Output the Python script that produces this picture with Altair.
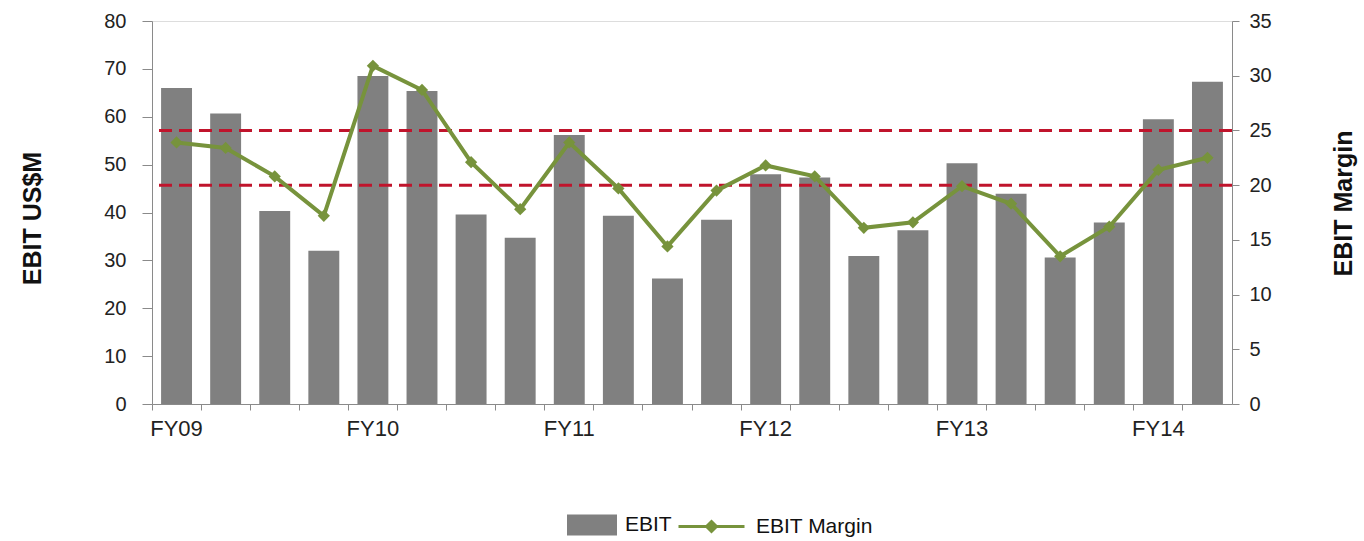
import altair as alt
import pandas as pd

quarters = [
    "FY09 Q1", "FY09 Q2", "FY09 Q3", "FY09 Q4",
    "FY10 Q1", "FY10 Q2", "FY10 Q3", "FY10 Q4",
    "FY11 Q1", "FY11 Q2", "FY11 Q3", "FY11 Q4",
    "FY12 Q1", "FY12 Q2", "FY12 Q3", "FY12 Q4",
    "FY13 Q1", "FY13 Q2", "FY13 Q3", "FY13 Q4",
    "FY14 Q1", "FY14 Q2",
]
ebit = [66.0, 60.7, 40.3, 32.0, 68.5, 65.4, 39.6, 34.7, 56.2, 39.3, 26.2,
        38.5, 48.0, 47.3, 30.9, 36.3, 50.3, 43.9, 30.6, 37.9, 59.5, 67.3]
margin = [23.9, 23.4, 20.8, 17.2, 30.9, 28.7, 22.1, 17.8, 23.9, 19.7, 14.4,
          19.5, 21.8, 20.8, 16.1, 16.6, 19.9, 18.3, 13.5, 16.2, 21.4, 22.5]
target_band = [20, 25]

FONT = "Liberation Sans"
GREY_AXIS = "#8a8a8a"

df = pd.DataFrame({
    "quarter": quarters,
    "ebit": ebit,
    "margin": margin,
    "s1": ["EBIT"] * len(quarters),
    "s2": ["EBIT Margin"] * len(quarters),
})
rules_df = pd.DataFrame({"margin": target_band})

x_enc = alt.X(
    "quarter:N",
    sort=quarters,
    scale=alt.Scale(paddingInner=0, paddingOuter=0),
    axis=alt.Axis(
        title=None,
        labelAngle=0,
        bandPosition=0,
        labelExpr="indexof(datum.value, 'Q1') >= 0 ? split(datum.value, ' ')[0] : ''",
        labelOverlap=False,
        tickSize=6,
        labelFontSize=22,
        labelPadding=8,
        labelColor="#222222",
        labelFont=FONT,
        domainColor=GREY_AXIS,
        tickColor=GREY_AXIS,
        grid=False,
    ),
)

left_axis = alt.Axis(
    title="EBIT US$M",
    values=list(range(0, 81, 10)),
    tickSize=10,
    labelPadding=16,
    labelFontSize=20,
    labelColor="#222222",
    labelFont=FONT,
    domainColor=GREY_AXIS,
    tickColor=GREY_AXIS,
    grid=False,
    titleFont=FONT,
    titleFontSize=25,
    titleFontWeight="bold",
    titleColor="#111111",
    titleX=-120,
    titleY=197,
    titleBaseline="middle",
)

right_axis = alt.Axis(
    title="EBIT Margin",
    orient="right",
    values=list(range(0, 36, 5)),
    tickSize=7,
    labelPadding=10,
    labelFontSize=20,
    labelColor="#222222",
    labelFont=FONT,
    domainColor=GREY_AXIS,
    tickColor=GREY_AXIS,
    grid=False,
    titleFont=FONT,
    titleFontSize=25,
    titleFontWeight="bold",
    titleColor="#111111",
    titleAngle=270,
    titleX=111,
    titleY=182,
    titleBaseline="middle",
)

y_margin = alt.Y("margin:Q", scale=alt.Scale(domain=[0, 35]), axis=right_axis)

bars = alt.Chart(df).mark_bar(width=alt.RelativeBandSize(0.63)).encode(
    x=x_enc,
    y=alt.Y("ebit:Q", scale=alt.Scale(domain=[0, 80]), axis=left_axis),
    fill=alt.Fill(
        "s1:N",
        scale=alt.Scale(range=["#808080"]),
        legend=alt.Legend(
            title=None,
            orient="none",
            legendX=415,
            legendY=479,
            symbolType="M-1,-0.42H1V0.42H-1Z",
            symbolSize=2500,
            symbolStrokeWidth=0,
            labelFontSize=21,
            labelFont=FONT,
            labelColor="#111111",
            labelOffset=8,
            padding=0,
        ),
    ),
)

rules = alt.Chart(rules_df).mark_rule(
    color="#c0142c", strokeDash=[13, 7], strokeWidth=3
).encode(y=y_margin)

line = alt.Chart(df).mark_line(strokeWidth=4).encode(
    x=x_enc,
    y=y_margin,
    stroke=alt.Stroke(
        "s2:N",
        scale=alt.Scale(range=["#77933c"]),
        legend=alt.Legend(
            title=None,
            orient="none",
            legendX=525,
            legendY=471,
            symbolType="M-1,0H1M0,-0.15L0.15,0L0,0.15L-0.15,0Z",
            symbolSize=4356,
            symbolStrokeWidth=3,
            symbolFillColor="#77933c",
            labelFontSize=21,
            labelFont=FONT,
            labelColor="#111111",
            labelOffset=10,
            padding=0,
        ),
    ),
)

points = alt.Chart(df).mark_point(
    shape="diamond", filled=True, size=150, color="#77933c", opacity=1
).encode(x=x_enc, y=y_margin)

chart = alt.layer(
    bars, alt.layer(rules, line, points)
).resolve_scale(y="independent").properties(
    width=1080,
    height=383,
    autosize=alt.AutoSizeParams(type="none"),
    padding={"left": 152, "top": 21, "right": 132, "bottom": 137},
).configure_view(stroke=None).configure(background="white")

chart.save("out.html", embed_options={"renderer": "svg", "actions": False})
